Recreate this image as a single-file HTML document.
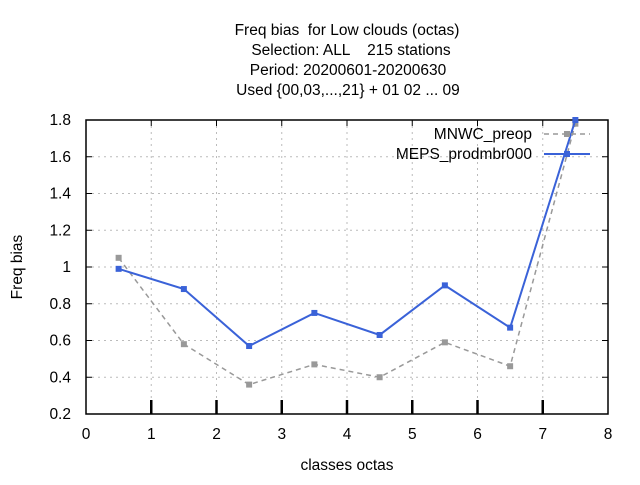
<!DOCTYPE html>
<html><head><meta charset="utf-8"><style>
body{margin:0;background:#fff}
svg text{font-family:"Liberation Sans",sans-serif;font-size:15.5px;fill:#000;white-space:pre}
</style></head><body>
<svg id="chart" width="640" height="480" xmlns="http://www.w3.org/2000/svg">
<g text-anchor="middle">
<text x="347" y="35" xml:space="preserve">Freq bias  for Low clouds (octas)</text>
<text x="351" y="55" xml:space="preserve">Selection: ALL    215 stations</text>
<text x="348" y="75">Period: 20200601-20200630</text>
<text x="348" y="95">Used {00,03,...,21} + 01 02 ... 09</text>
</g>
<g id="grid"></g>
<g id="axes"></g>
<text transform="translate(22,267) rotate(-90)" text-anchor="middle">Freq bias</text>
<text x="347" y="470" text-anchor="middle">classes octas</text>
<g id="series"></g>
<g id="legend">
<text x="532" y="139" text-anchor="end">MNWC_preop</text>
<line x1="544" y1="134" x2="590" y2="134" stroke="#999" stroke-width="1.5" stroke-dasharray="5,4"/>
<rect x="564" y="131" width="6" height="6" fill="#999"/>
<text x="532" y="159" text-anchor="end">MEPS_prodmbr000</text>
<line x1="544" y1="154" x2="590" y2="154" stroke="#3a62d8" stroke-width="2"/>
<rect x="564" y="151" width="6" height="6" fill="#3a62d8"/>
</g>
</svg>
<script>
const xTicks=[0,1,2,3,4,5,6,7,8];
const yTicks=[0.2,0.4,0.6,0.8,1,1.2,1.4,1.6,1.8];
const yTickLabels=["0.2","0.4","0.6","0.8","1","1.2","1.4","1.6","1.8"];
const categories=[0.5,1.5,2.5,3.5,4.5,5.5,6.5,7.5];
const mnwcValues=[1.05,0.58,0.36,0.47,0.40,0.59,0.46,1.78];
const mepsValues=[0.99,0.88,0.57,0.75,0.63,0.90,0.67,1.80];
const NS="http://www.w3.org/2000/svg";
const L=86,R=608,T=120,B=414;
const sx=v=>L+(v-0)/8*(R-L);
const sy=v=>B-(v-0.2)/1.6*(B-T);
function mk(tag,attrs,parent){const e=document.createElementNS(NS,tag);for(const k in attrs)e.setAttribute(k,attrs[k]);parent.appendChild(e);return e;}
const grid=document.getElementById('grid'),axes=document.getElementById('axes'),ser=document.getElementById('series');
xTicks.forEach(t=>{
 if(t>0&&t<8){const g=mk('line',{x1:sx(t),x2:sx(t),y1:T,y2:B,stroke:'#bbb','stroke-dasharray':'2,4'},grid);
 
 
 mk('line',{x1:sx(t),x2:sx(t),y1:B-14,y2:B,stroke:'#000','stroke-width':2.5},axes);
 mk('line',{x1:sx(t),x2:sx(t),y1:T,y2:T+6,stroke:'#000'},axes);}
 const tx=mk('text',{x:sx(t),y:B+25,'text-anchor':'middle'},axes);tx.textContent=t;
 
 
});
yTicks.forEach((t,i)=>{
 if(i>0&&i<yTicks.length-1){const g=mk('line',{x1:L,x2:R,y1:sy(t),y2:sy(t),stroke:'#bbb','stroke-dasharray':'2,4'},grid);
 
 
 mk('line',{x1:L,x2:L+6,y1:sy(t),y2:sy(t),stroke:'#000'},axes);
 mk('line',{x1:R-6,x2:R,y1:sy(t),y2:sy(t),stroke:'#000'},axes);}
 const tx=mk('text',{x:L-15,y:sy(t)+5,'text-anchor':'end'},axes);tx.textContent=yTickLabels[i];
 
 
});
mk('rect',{x:L,y:T,width:R-L,height:B-T,fill:'none',stroke:'#000','stroke-width':1.5},axes);
function series(vals,color,dash,w,name){
 const p=mk('polyline',{points:categories.map((c,i)=>sx(c)+','+sy(vals[i])).join(' '),fill:'none',stroke:color,'stroke-width':w},ser);
 if(dash)p.setAttribute('stroke-dasharray',dash);
 
 
 categories.forEach((c,i)=>{const r=mk('rect',{x:sx(c)-3,y:sy(vals[i])-3,width:6,height:6,fill:color},ser);
 
 });
}
series(mnwcValues,'#999','5,4',1.5,'mnwc-preop');
series(mepsValues,'#3a62d8',null,2,'meps-prodmbr000');
</script>
</body></html>
